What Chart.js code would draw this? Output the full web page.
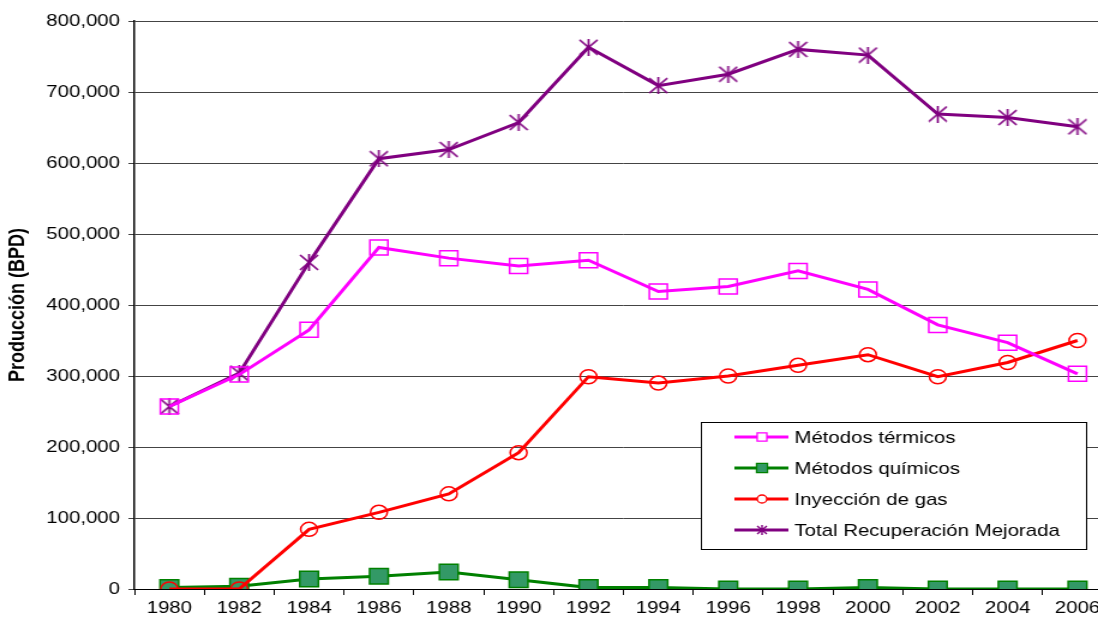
<!DOCTYPE html>
<html>
<head>
<meta charset="utf-8">
<script src="https://cdn.jsdelivr.net/npm/chart.js@4.4.1/dist/chart.umd.min.js"></script>
<style>
  html, body { margin: 0; padding: 0; background: #fff; overflow: hidden; }
  #clip { width: 1098px; height: 619px; overflow: hidden; }
  /* the original picture is stretched sideways, so the chart is too */
  #wrap { position: relative; width: 927px; height: 619px; transform: scaleX(1.2); transform-origin: 0 0; }
  #eor-chart { display: block; }
</style>
</head>
<body>
<div id="clip"><div id="wrap"><canvas id="eor-chart" width="927" height="619"></canvas></div></div>
<script>
const years = ['1980', '1982', '1984', '1986', '1988', '1990', '1992', '1994', '1996', '1998', '2000', '2002', '2004', '2006'];
const termicos = [257000, 302000, 365000, 481000, 466000, 455000, 463000, 419000, 426000, 448000, 422000, 372000, 347000, 303000];
const quimicos = [2000, 4000, 14000, 18000, 24000, 13000, 2000, 2000, 0, 0, 2000, 0, 0, 0];
const inyeccionGas = [0, 0, 84000, 108000, 134000, 192000, 299000, 290000, 300000, 315000, 330000, 299000, 319000, 350000];
const totalMejorada = [257000, 304000, 460000, 606000, 619000, 657000, 763000, 709000, 725000, 760000, 752000, 669000, 664000, 651000];
const seriesNames = ['Métodos térmicos', 'Métodos químicos', 'Inyección de gas', 'Total Recuperación Mejorada'];

const tickFont = { family: 'Arial, "Liberation Sans", sans-serif', size: 17 };

// excel style asterisk: vertical bar plus an X
function starMarker(w, h, lw) {
  const c = document.createElement('canvas');
  c.width = w;
  c.height = h;
  const g = c.getContext('2d');
  g.strokeStyle = '#800080';
  g.lineWidth = lw;
  g.beginPath();
  g.moveTo(w / 2, 0); g.lineTo(w / 2, h);
  g.moveTo(1, 1); g.lineTo(w - 1, h - 1);
  g.moveTo(w - 1, 1); g.lineTo(1, h - 1);
  g.stroke();
  return c;
}
const bigStar = starMarker(17, 17, 1.7);
const smallStar = starMarker(10, 10, 1.4);

// legend drawn as a boxed panel inside the plot
const legendMarks = [
  { style: 'rect', radius: 5.7, fill: '#fff' },
  { style: 'rect', radius: 6.4, fill: '#339966' },
  { style: 'circle', radius: 4, fill: '#fff' },
  { style: smallStar, radius: 5, fill: '#fff' }
];
const boxLegend = {
  id: 'boxLegend',
  afterDraw(chart) {
    const ctx = chart.ctx;
    const left = 584, top = 422, w = 321, h = 127;
    ctx.save();
    ctx.fillStyle = '#fff';
    ctx.fillRect(left, top, w, h);
    ctx.strokeStyle = '#000';
    ctx.lineWidth = 1;
    ctx.strokeRect(left + 0.5, top + 0.5, w, h);
    chart.data.datasets.forEach((ds, i) => {
      const y = top + 15 + i * 31;
      ctx.strokeStyle = ds.borderColor;
      ctx.lineWidth = 3;
      ctx.beginPath();
      ctx.moveTo(left + 28, y);
      ctx.lineTo(left + 73, y);
      ctx.stroke();
      const m = legendMarks[i];
      ctx.fillStyle = m.fill;
      ctx.strokeStyle = ds.pointBorderColor;
      ctx.lineWidth = 1.3;
      Chart.helpers.drawPoint(ctx, { pointStyle: m.style, radius: m.radius, borderWidth: 1.3, rotation: 0 }, left + 51, y);
      ctx.fillStyle = '#000';
      ctx.font = '17px Arial, "Liberation Sans", sans-serif';
      ctx.textBaseline = 'middle';
      ctx.fillText(ds.label, left + 78, y + 1);
    });
    ctx.restore();
  }
};

new Chart(document.getElementById('eor-chart'), {
  type: 'line',
  data: {
    labels: years,
    datasets: [
      {
        label: seriesNames[0],
        data: termicos,
        borderColor: '#ff00ff',
        borderWidth: 3,
        pointStyle: 'rect',
        pointRadius: 10.6,
        pointBorderWidth: 1.5,
        pointBorderColor: '#ff00ff',
        pointBackgroundColor: 'rgba(0,0,0,0)',
        order: 1
      },
      {
        label: seriesNames[1],
        data: quimicos,
        borderColor: '#008000',
        borderWidth: 3,
        pointStyle: 'rect',
        pointRadius: 11,
        pointBorderWidth: 1.5,
        pointBorderColor: '#008000',
        pointBackgroundColor: '#339966',
        order: 3
      },
      {
        label: seriesNames[2],
        data: inyeccionGas,
        borderColor: '#ff0000',
        borderWidth: 3,
        pointStyle: 'circle',
        pointRadius: 7,
        pointBorderWidth: 1.5,
        pointBorderColor: '#ff0000',
        pointBackgroundColor: 'rgba(0,0,0,0)',
        order: 2
      },
      {
        label: seriesNames[3],
        data: totalMejorada,
        borderColor: '#800080',
        borderWidth: 3,
        pointStyle: bigStar,
        pointRadius: 9,
        pointBorderColor: '#800080',
        order: 4
      }
    ]
  },
  options: {
    responsive: false,
    animation: false,
    layout: { autoPadding: false, padding: { top: 21, right: 0, bottom: 0, left: 0 } },
    plugins: {
      legend: { display: false },
      tooltip: { enabled: false }
    },
    scales: {
      x: {
        offset: true,
        grid: { offset: true, drawOnChartArea: false, tickLength: 6, color: '#000' },
        border: { color: '#000', width: 1 },
        ticks: { color: '#000', font: tickFont, maxRotation: 0, autoSkip: false, padding: 3 },
        afterFit: axis => { axis.height = 30; }
      },
      y: {
        min: 0,
        max: 800000,
        ticks: {
          stepSize: 100000,
          color: '#000',
          font: tickFont,
          padding: 7,
          callback: v => v.toLocaleString('en-US')
        },
        grid: { color: '#444', tickLength: 5 },
        border: { color: '#000', width: 1.5 },
        title: {
          display: true,
          text: 'Producción (BPD)',
          color: '#000',
          font: { family: 'Arial, "Liberation Sans", sans-serif', size: 18, weight: 'bold' },
          padding: { top: 4, bottom: 0 }
        },
        afterFit: axis => { axis.width = 112; }
      }
    }
  },
  plugins: [boxLegend]
});
</script>
</body>
</html>
